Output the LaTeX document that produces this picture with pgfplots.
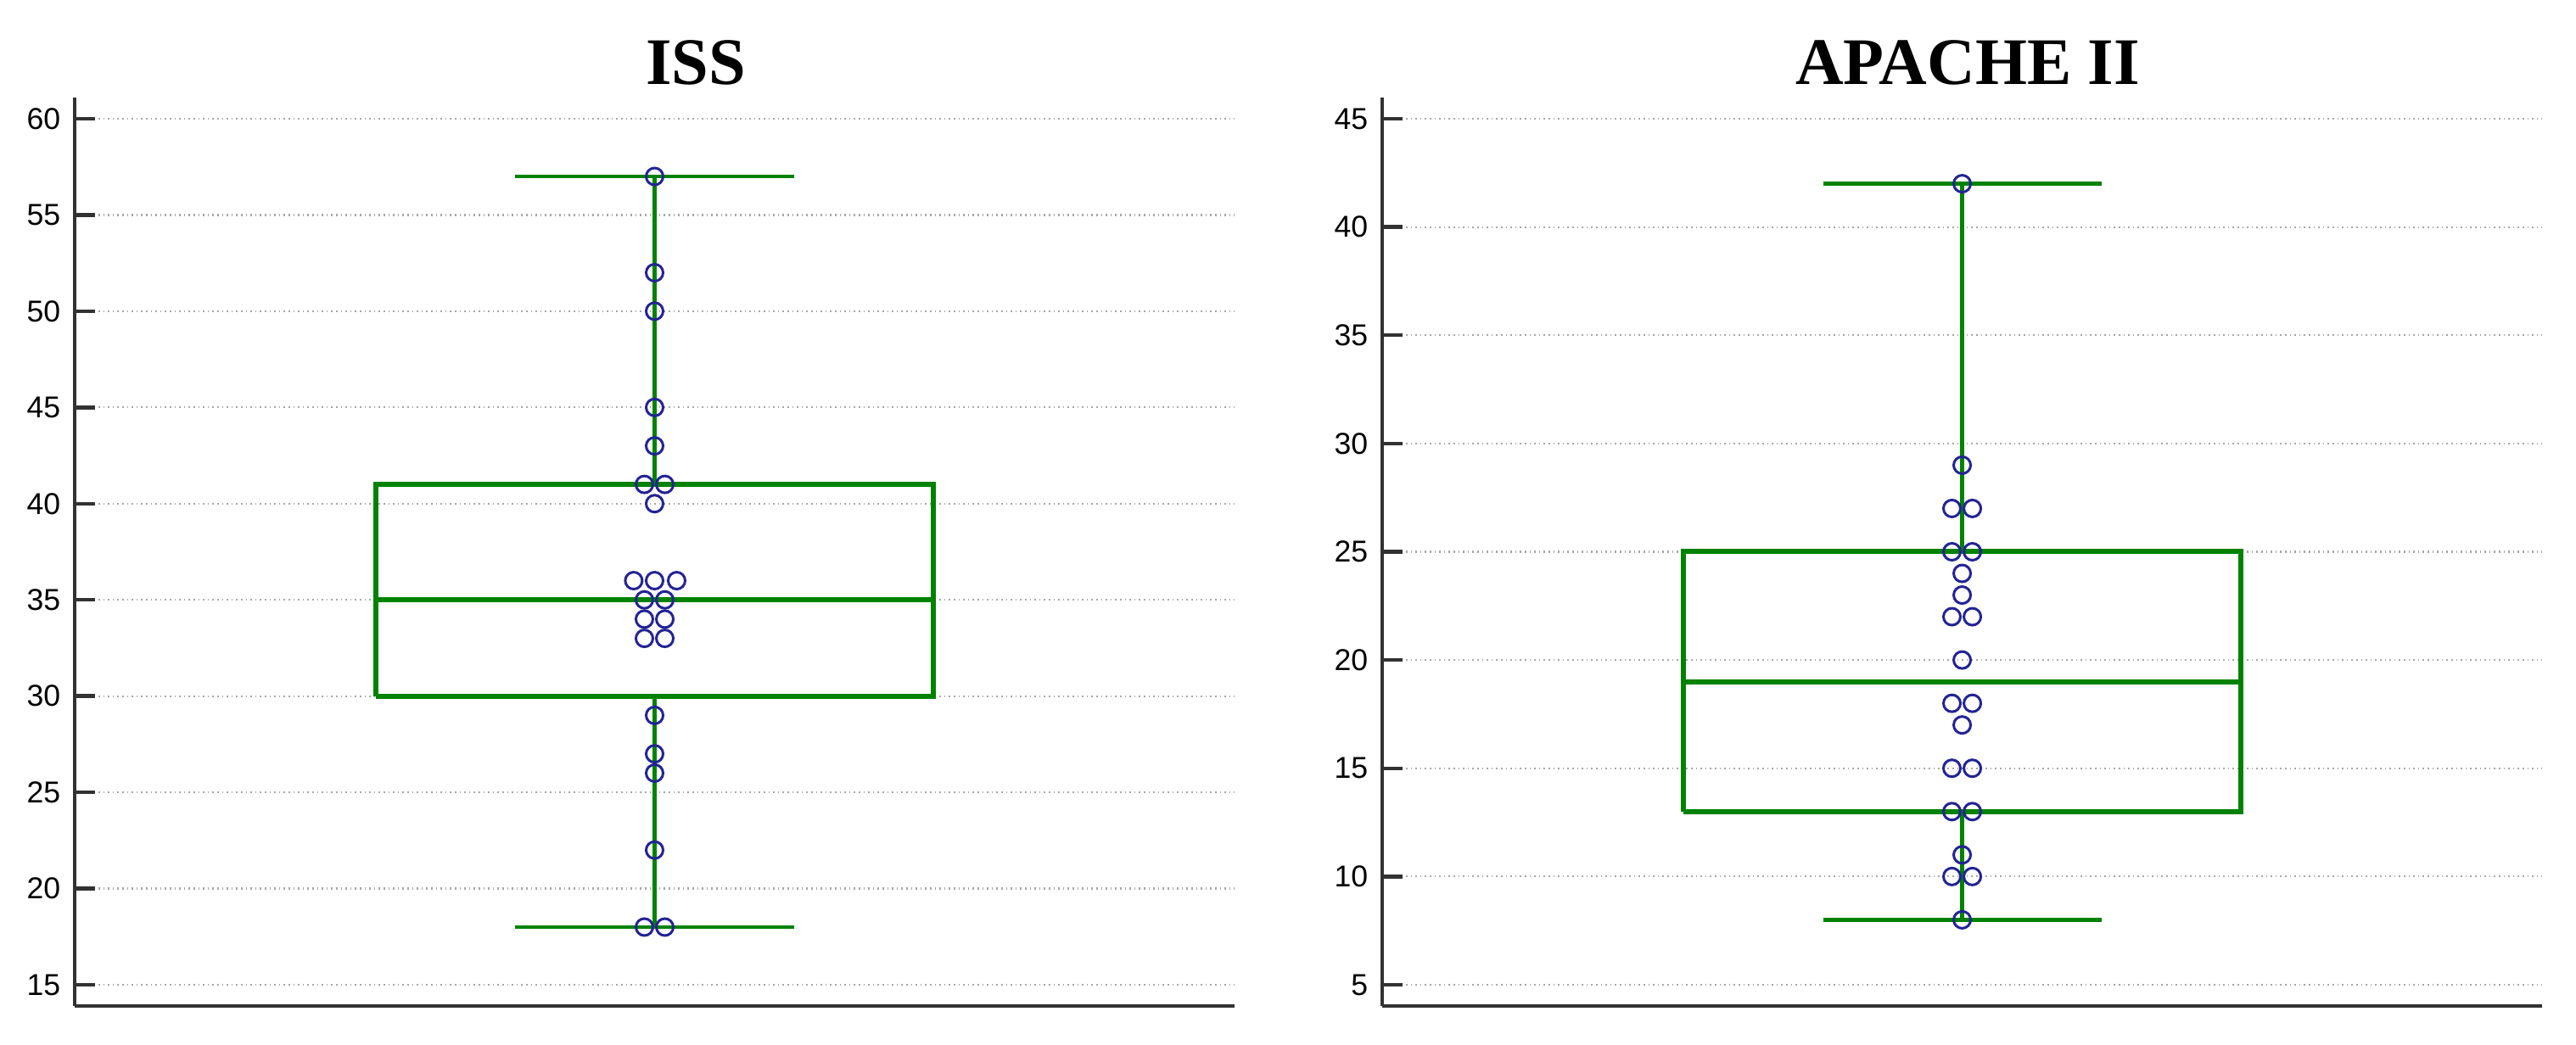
\documentclass[border=0pt]{standalone}
\usepackage{pgfplots}
\pgfplotsset{compat=1.18}
\usepackage{fontspec}
\setmainfont{Liberation Sans}
\newfontfamily\titlefont{Liberation Serif}
\definecolor{boxgreen}{RGB}{0,130,0}
\definecolor{dotblue}{RGB}{35,35,150}
\definecolor{axgray}{RGB}{50,50,50}
\pgfplotsset{
  every non boxed y axis/.append style={ytick align=inside},
  every non boxed x axis/.append style={xtick align=inside},
  myaxis/.style={
    scale only axis,
    width=341.75pt, height=267.75pt,
    anchor=south west,
    xmin=0, xmax=1,
    axis lines=left,
    axis line style={-, draw=axgray, line width=0.9pt},
    xtick=\empty,
    tick align=inside,
    major tick length=6pt,
    ytick style={draw=axgray, line width=1.1pt},
    ymajorgrids,
    grid style={densely dotted, gray!70, line width=0.55pt},
    yticklabel style={font=\fontsize{8.9}{10}\selectfont, anchor=east, inner sep=0pt, xshift=-4pt},
    /pgf/number format/assume math mode=true,
    clip=false,
  },
  pts/.style={only marks, mark=o, mark size=2.5pt, mark options={draw=dotblue, fill=white, line width=0.75pt}},
  boxl/.style={draw=boxgreen, line width=1.5pt, mark=none},
  whisk/.style={draw=boxgreen, line width=1.2pt, mark=none},
}
\begin{document}
\begin{tikzpicture}
\path[use as bounding box] (0,0) rectangle (759pt,307.75pt);
\node[anchor=base, font=\titlefont\bfseries\fontsize{19.6}{22}\selectfont] at (205pt,282.75pt) {ISS};
\node[anchor=base, font=\titlefont\bfseries\fontsize{19.6}{22}\selectfont] at (579.75pt,282.75pt) {APACHE II};
\begin{axis}[myaxis, at={(22pt,11.25pt)}, ymin=13.9, ymax=61.1, ytick={15,20,...,60}, ytick align=inside]
% whiskers
\addplot[whisk] coordinates {(0.5,18) (0.5,30)};
\addplot[whisk] coordinates {(0.5,41) (0.5,57)};
\addplot[whisk] coordinates {(0.38,18) (0.62,18)};
\addplot[whisk] coordinates {(0.38,57) (0.62,57)};
% box
\addplot[boxl] coordinates {(0.26,30) (0.74,30) (0.74,41) (0.26,41) (0.26,30)};
\addplot[boxl] coordinates {(0.26,35) (0.74,35)};
% points
\addplot[pts] coordinates {
(0.5,57) (0.5,52) (0.5,50) (0.5,45) (0.5,43)
(0.4912,41) (0.5088,41) (0.5,40)
(0.482,36) (0.5,36) (0.519,36)
(0.4912,35) (0.5088,35)
(0.4912,34) (0.5088,34)
(0.4912,33) (0.5088,33)
(0.5,29) (0.5,27) (0.5,26) (0.5,22)
(0.4912,18) (0.5088,18)
};
\end{axis}
\begin{axis}[myaxis, at={(407.25pt,11.25pt)}, ymin=4.02, ymax=45.98, ytick={5,10,...,45}, ytick align=inside]
\addplot[whisk] coordinates {(0.5,8) (0.5,13)};
\addplot[whisk] coordinates {(0.5,25) (0.5,42)};
\addplot[whisk] coordinates {(0.38,8) (0.62,8)};
\addplot[whisk] coordinates {(0.38,42) (0.62,42)};
\addplot[boxl] coordinates {(0.26,13) (0.74,13) (0.74,25) (0.26,25) (0.26,13)};
\addplot[boxl] coordinates {(0.26,19) (0.74,19)};
\addplot[pts] coordinates {
(0.5,42) (0.5,29)
(0.4912,27) (0.5088,27)
(0.4912,25) (0.5088,25)
(0.5,24) (0.5,23)
(0.4912,22) (0.5088,22)
(0.5,20)
(0.4912,18) (0.5088,18)
(0.5,17)
(0.4912,15) (0.5088,15)
(0.4912,13) (0.5088,13)
(0.5,11)
(0.4912,10) (0.5088,10)
(0.5,8)
};
\end{axis}
\end{tikzpicture}
\end{document}
